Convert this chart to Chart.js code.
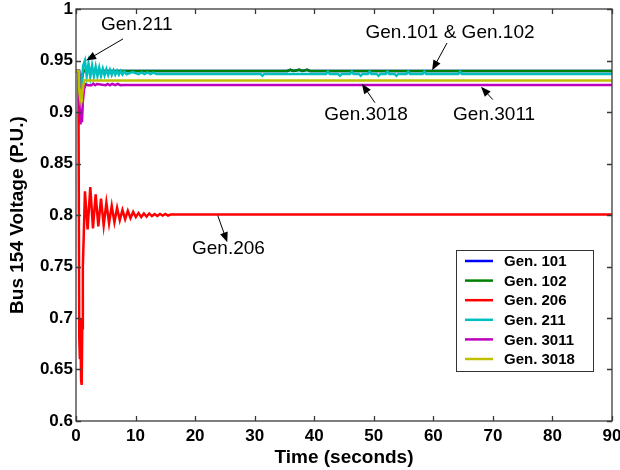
<!DOCTYPE html>
<html>
<head>
<meta charset="utf-8">
<script src="https://cdn.jsdelivr.net/npm/chart.js@4.4.1/dist/chart.umd.min.js"></script>
<style>
  html, body { margin: 0; padding: 0; background: #fff; }
  #wrap { width: 620px; height: 470px; }
</style>
</head>
<body>
<div id="wrap"><canvas id="busChart" width="620" height="470"></canvas></div>
<script>
// ── Bus 154 voltage after the disturbance, one trace per generator case ──
const genNames = ["Gen. 101", "Gen. 102", "Gen. 206", "Gen. 211", "Gen. 3011", "Gen. 3018"];
const genColors = ["#0000ff", "#008000", "#ff0000", "#00bfbf", "#bf00bf", "#bfbf00"];

const xTicks = [0, 10, 20, 30, 40, 50, 60, 70, 80, 90];
const yTicks = [0.6, 0.65, 0.7, 0.75, 0.8, 0.85, 0.9, 0.95, 1];

// Gen. 101 and Gen. 102 give the same response
const time101 = [0, 0.5, 0.6, 0.8, 1.0, 1.3, 1.6, 35.5, 36, 36.5, 37.5, 38, 38.8, 39.3, 90];
const volt101 = [0.9398, 0.9398, 0.93, 0.925, 0.933, 0.941, 0.9398, 0.9398, 0.941, 0.9398, 0.941, 0.9398, 0.941, 0.9398, 0.9398];
const time102 = [0, 0.5, 0.6, 0.8, 1.0, 1.3, 1.6, 35.5, 36, 36.5, 37.5, 38, 38.8, 39.3, 90];
const volt102 = [0.9398, 0.9398, 0.93, 0.925, 0.933, 0.941, 0.9398, 0.9398, 0.941, 0.9398, 0.941, 0.9398, 0.941, 0.9398, 0.9398];

const time206 = [0, 0.4, 0.55, 0.65, 0.75, 0.85, 0.95, 1.05, 1.15, 1.3, 1.5, 1.95, 2.4, 2.85, 3.3, 3.75,
  4.2, 4.65, 5.1, 5.55, 6.0, 6.45, 6.9, 7.35, 7.8, 8.25, 8.7, 9.15, 9.6, 10.05, 10.5, 10.95, 11.4,
  11.85, 12.3, 12.75, 13.2, 13.65, 14.1, 14.55, 15.0, 15.45, 15.9, 90];
const volt206 = [0.9398, 0.9398, 0.68, 0.66, 0.70, 0.64, 0.635, 0.69, 0.75, 0.78, 0.823, 0.786, 0.827, 0.787,
  0.820, 0.789, 0.816, 0.790, 0.812, 0.792, 0.809, 0.793, 0.807, 0.795, 0.805, 0.796, 0.804, 0.797,
  0.803, 0.798, 0.802, 0.798, 0.8015, 0.7985, 0.8015, 0.799, 0.801, 0.799, 0.801, 0.7995, 0.801,
  0.7995, 0.8005, 0.8005];

const time211 = [0, 0.5, 0.6, 0.8, 1.0, 1.2, 1.5, 1.8, 2.1, 2.4, 2.7, 3.0, 3.3, 3.6, 3.9, 4.2, 4.5,
  4.8, 5.1, 5.4, 5.7, 6.0, 6.3, 6.6, 6.9, 7.2, 7.5, 7.8, 8.1, 8.5, 9.5, 10.5, 11.0, 11.5, 12.0,
  12.5, 13.0, 13.5, 31, 31.3, 31.6, 42, 42.3, 42.6, 44, 44.3, 44.6, 46, 46.3, 46.6, 47.5, 47.8,
  48.1, 49, 49.3, 49.6, 50.5, 50.8, 51.1, 52, 52.3, 52.6, 53.5, 53.8, 54.1, 55.5, 55.8, 56.1,
  58.2, 58.5, 58.8, 64.2, 64.5, 64.8, 90];
const volt211 = [0.9398, 0.9398, 0.925, 0.92, 0.93, 0.945, 0.950, 0.935, 0.947, 0.934, 0.945, 0.935,
  0.944, 0.935, 0.943, 0.935, 0.942, 0.9355, 0.9415, 0.936, 0.941, 0.936, 0.9405, 0.9363, 0.940,
  0.9363, 0.9398, 0.9365, 0.9393, 0.9367, 0.9388, 0.9367, 0.9385, 0.9368, 0.9385, 0.9369, 0.9382,
  0.937, 0.937, 0.9352, 0.937, 0.937, 0.9392, 0.937, 0.937, 0.9352, 0.937, 0.937, 0.9392,
  0.937, 0.937, 0.9352, 0.937, 0.937, 0.9392, 0.937, 0.937, 0.9352, 0.937, 0.937, 0.9392,
  0.937, 0.937, 0.9352, 0.937, 0.937, 0.9392, 0.937, 0.937, 0.9392, 0.937, 0.937, 0.9392,
  0.937, 0.937];

const time3011 = [0, 0.5, 0.6, 0.75, 0.9, 1.0, 1.15, 1.35, 1.6, 2.0, 2.6, 2.9, 3.2, 3.5, 5.0, 5.3,
  5.7, 6.1, 6.6, 7.0, 7.5, 7.9, 90];
const volt3011 = [0.9398, 0.9398, 0.905, 0.888, 0.895, 0.89, 0.91, 0.922, 0.927, 0.926, 0.926, 0.9275,
  0.926, 0.9272, 0.926, 0.9272, 0.926, 0.9272, 0.926, 0.9272, 0.926, 0.9262, 0.9262];

const time3018 = [0, 0.45, 0.55, 0.7, 0.85, 1.0, 1.2, 1.4, 1.8, 90];
const volt3018 = [0.9398, 0.9398, 0.92, 0.913, 0.918, 0.915, 0.925, 0.931, 0.9307, 0.9307];

const times = [time101, time102, time206, time211, time3011, time3018];
const volts = [volt101, volt102, volt206, volt211, volt3011, volt3018];

// arrow callouts, in axis units: label centre, arrow tail, arrow tip
const callouts = [
  { text: "Gen.211", at: [10.2, 0.9845], from: [7.9, 0.971], to: [1.7, 0.950] },
  { text: "Gen.101 & Gen.102", at: [62.8, 0.9768], from: [62.3, 0.967], to: [59.8, 0.9405] },
  { text: "Gen.3018", at: [48.7, 0.8975], from: [50.2, 0.909], to: [48.0, 0.9275] },
  { text: "Gen.3011", at: [70.2, 0.8975], from: [70.0, 0.912], to: [68.0, 0.9245] },
  { text: "Gen.206", at: [25.6, 0.7675], from: [23.8, 0.7995], to: [25.4, 0.7735] },
];

const datasets = genNames.map((name, i) => ({
  label: name,
  data: times[i].map((t, k) => ({ x: t, y: volts[i][k] })),
  borderColor: genColors[i],
  backgroundColor: genColors[i],
  borderWidth: 2.5,
  pointRadius: 0,
  tension: 0,
  // later generators sit on top of earlier ones
  order: genNames.length - i,
}));

const TICK_FONT = { family: "'Liberation Sans', Arial, sans-serif", size: 17, weight: "bold" };
const TITLE_FONT = { family: "'Liberation Sans', Arial, sans-serif", size: 19, weight: "bold" };

// white page, box round the plot and MATLAB-style inward ticks
const framePlugin = {
  id: "frame",
  beforeDraw(chart) {
    const c = chart.ctx;
    c.save();
    c.fillStyle = "#fff";
    c.fillRect(0, 0, chart.width, chart.height);
    c.restore();
  },
  afterDatasetsDraw(chart) {
    const { ctx: c, chartArea: a, scales: { x, y } } = chart;
    c.save();
    c.strokeStyle = "#3a3a3a";
    c.lineWidth = 1.3;
    c.strokeRect(a.left, a.top, a.right - a.left, a.bottom - a.top);
    c.beginPath();
    const len = 5;
    xTicks.forEach(v => {
      const px = Math.round(x.getPixelForValue(v)) + 0.5;
      c.moveTo(px, a.bottom); c.lineTo(px, a.bottom - len);
      c.moveTo(px, a.top); c.lineTo(px, a.top + len);
    });
    yTicks.forEach(v => {
      const py = Math.round(y.getPixelForValue(v)) + 0.5;
      c.moveTo(a.left, py); c.lineTo(a.left + len, py);
      c.moveTo(a.right, py); c.lineTo(a.right - len, py);
    });
    c.stroke();
    c.restore();
  },
};

function arrow(c, x0, y0, x1, y1) {
  const ang = Math.atan2(y1 - y0, x1 - x0);
  const hl = 10, hw = 4;
  c.beginPath();
  c.moveTo(x0, y0);
  c.lineTo(x1 - Math.cos(ang) * hl * 0.8, y1 - Math.sin(ang) * hl * 0.8);
  c.stroke();
  c.beginPath();
  c.moveTo(x1, y1);
  c.lineTo(x1 - Math.cos(ang) * hl - Math.sin(ang) * hw, y1 - Math.sin(ang) * hl + Math.cos(ang) * hw);
  c.lineTo(x1 - Math.cos(ang) * hl + Math.sin(ang) * hw, y1 - Math.sin(ang) * hl - Math.cos(ang) * hw);
  c.closePath();
  c.fill();
}

const calloutPlugin = {
  id: "callouts",
  afterDraw(chart) {
    const { ctx: c, scales: { x, y } } = chart;
    c.save();
    c.fillStyle = "#000";
    c.strokeStyle = "#000";
    c.lineWidth = 1;
    c.font = "19px 'Liberation Sans', Arial, sans-serif";
    c.textAlign = "center";
    c.textBaseline = "middle";
    callouts.forEach(n => {
      c.fillText(n.text, x.getPixelForValue(n.at[0]), y.getPixelForValue(n.at[1]));
      arrow(c, x.getPixelForValue(n.from[0]), y.getPixelForValue(n.from[1]),
        x.getPixelForValue(n.to[0]), y.getPixelForValue(n.to[1]));
    });
    c.restore();
  },
};

// legend box in the lower right of the plot
const legendBoxPlugin = {
  id: "legendBox",
  afterDraw(chart) {
    const { ctx: c, chartArea: a } = chart;
    const left = a.right - 156, top = a.bottom - 171, w = 137, h = 121, row = 19.6;
    c.save();
    c.fillStyle = "#fff";
    c.fillRect(left, top, w, h);
    c.strokeStyle = "#333";
    c.lineWidth = 1;
    c.strokeRect(left + 0.5, top + 0.5, w, h);
    c.font = "bold 15px 'Liberation Sans', Arial, sans-serif";
    c.textBaseline = "middle";
    c.textAlign = "left";
    genNames.forEach((name, i) => {
      const yy = top + 11 + i * row;
      c.strokeStyle = genColors[i];
      c.lineWidth = 2.5;
      c.beginPath();
      c.moveTo(left + 9, yy); c.lineTo(left + 37, yy);
      c.stroke();
      c.fillStyle = "#000";
      c.fillText(name, left + 48, yy + 1);
    });
    c.restore();
  },
};

new Chart(document.getElementById("busChart"), {
  type: "line",
  data: { datasets },
  plugins: [framePlugin, calloutPlugin, legendBoxPlugin],
  options: {
    responsive: false,
    devicePixelRatio: 1,
    animation: false,
    layout: { padding: { left: 0, right: 8, top: 9, bottom: 0 } },
    plugins: { legend: { display: false }, tooltip: { enabled: false } },
    scales: {
      x: {
        type: "linear", min: 0, max: 90,
        afterBuildTicks: s => { s.ticks = xTicks.map(v => ({ value: v })); },
        afterFit: s => { s.height = 49; s.paddingLeft = 0; s.paddingRight = 0; },
        ticks: { color: "#000", font: TICK_FONT, padding: 5, maxRotation: 0, autoSkip: false },
        grid: { display: false, drawTicks: false },
        border: { display: false },
        title: { display: true, text: "Time (seconds)", color: "#000", font: TITLE_FONT, padding: { top: 0, bottom: 1 } },
      },
      y: {
        type: "linear", min: 0.6, max: 1,
        afterBuildTicks: s => { s.ticks = yTicks.map(v => ({ value: v })); },
        afterFit: s => { s.width = 76; s.paddingTop = 0; s.paddingBottom = 0; },
        ticks: { color: "#000", font: TICK_FONT, padding: 3, callback: v => String(v) },
        grid: { display: false, drawTicks: false },
        border: { display: false },
        title: { display: true, text: "Bus 154 Voltage (P.U.)", color: "#000", font: TITLE_FONT, padding: { top: 6, bottom: 0 } },
      },
    },
  },
});
</script>
</body>
</html>
